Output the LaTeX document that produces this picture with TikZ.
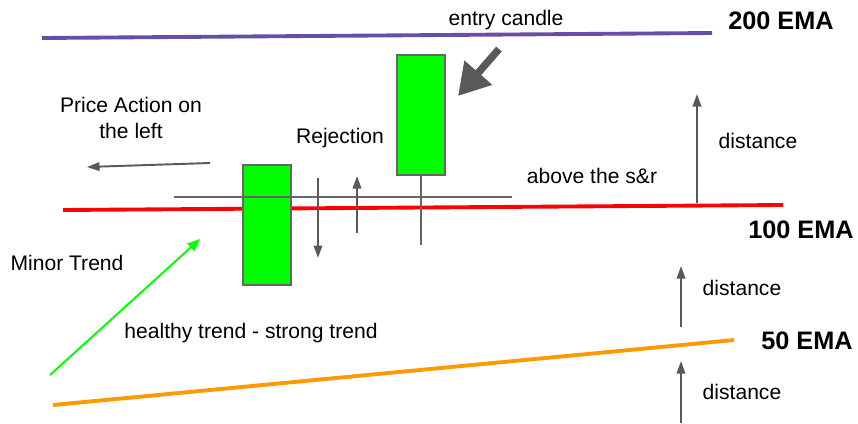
\documentclass[tikz,border=0pt]{standalone}
\usepackage{fontspec}
\setmainfont{Liberation Sans}
\usetikzlibrary{arrows.meta}

\definecolor{emapurple}{HTML}{674EA7}
\definecolor{emared}{HTML}{FF0000}
\definecolor{emaorange}{HTML}{FF9900}
\definecolor{candlegreen}{HTML}{00FF00}
\definecolor{candleedge}{HTML}{666666}
\definecolor{arrowgray}{HTML}{595959}

\begin{document}
\begin{tikzpicture}[
  x=0.02cm,
  y=-0.02cm,
  every node/.style={font=\fontsize{12}{14.5}\selectfont, inner sep=0pt},
  note/.style={align=center},
  ema label/.style={font=\fontsize{14.4}{17}\selectfont\bfseries},
  ema/.style={line width=2.2pt, draw=#1},
  candle/.style={
    draw=candleedge,
    line width=1.1pt,
    fill=candlegreen,
    minimum width=0.96cm,
    minimum height=2.4cm
  },
  wick/.style={draw=candleedge, line width=1.1pt},
  pointer/.style={draw=arrowgray, line width=1.1pt, -{Triangle[length=2.5mm,width=1.7mm]}},
  trend/.style={draw=candlegreen, line width=1.1pt, -{Triangle[length=2.5mm,width=2mm]}},
  big pointer/.style={draw=arrowgray, line width=4.2pt, -{Triangle[length=6.2mm,width=7mm]}}
]
\useasboundingbox (0,0) rectangle (858,423);

% moving averages
\coordinate (ema200 start) at (42,38);
\coordinate (ema200 end) at (712,33);
\coordinate (ema100 start) at (63,210);
\coordinate (ema100 end) at (783,205);
\coordinate (ema50 start) at (53,405);
\coordinate (ema50 end) at (734,340);
\draw[ema=emapurple] (ema200 start) -- (ema200 end);
\draw[ema=emared] (ema100 start) -- (ema100 end);
\draw[ema=emaorange] (ema50 start) -- (ema50 end);

\node[ema label] (label200) at (781,21) {200 EMA};
\node[ema label] (label100) at (801,230) {100 EMA};
\node[ema label] (label50) at (807,341) {50 EMA};

% candles
\node[candle] (setup) at (267,225) {};
\node[candle] (entry) at (421,115) {};
\coordinate (entry wick) at (421,245);
\draw[wick] (entry.south) -- (entry wick);

% support and resistance
\coordinate (sr start) at (174,197);
\coordinate (sr end) at (512,197);
\draw[wick] (sr start) -- (sr end);

% texts
\node (entrytext) at (506,20) {entry candle};
\node[note] (pricetext) at (131,118) {Price Action on\\the left};
\node (rejecttext) at (340,138) {Rejection};
\node (abovetext) at (592,176) {above the s\&r};
\node (minortext) at (67,263) {Minor Trend};
\node (healthytext) at (251,333) {healthy trend - strong trend};
\node (dist1) at (758,141) {distance};
\node (dist2) at (742,288) {distance};
\node (dist3) at (742,392) {distance};

% arrows
\coordinate (big from) at (499,49);
\coordinate (big to) at (458,96);
\draw[big pointer] (big from) -- (big to);

\coordinate (left from) at (210,163);
\coordinate (left to) at (87,167);
\draw[pointer] (left from) -- (left to);

\coordinate (down from) at (318,178);
\coordinate (down to) at (318,258);
\draw[pointer] (down from) -- (down to);
\coordinate (up from) at (357,233);
\coordinate (up to) at (357,176);
\draw[pointer] (up from) -- (up to);

\coordinate (trend from) at (50,375);
\coordinate (trend to) at (200,239);
\draw[trend] (trend from) -- (trend to);

\coordinate (gap1 from) at (697,203);
\coordinate (gap1 to) at (697,94);
\draw[pointer] (gap1 from) -- (gap1 to);
\coordinate (gap2 from) at (681,327);
\coordinate (gap2 to) at (681,266);
\draw[pointer] (gap2 from) -- (gap2 to);
\coordinate (gap3 from) at (681,423);
\coordinate (gap3 to) at (681,361);
\draw[pointer] (gap3 from) -- (gap3 to);
\end{tikzpicture}
\end{document}
